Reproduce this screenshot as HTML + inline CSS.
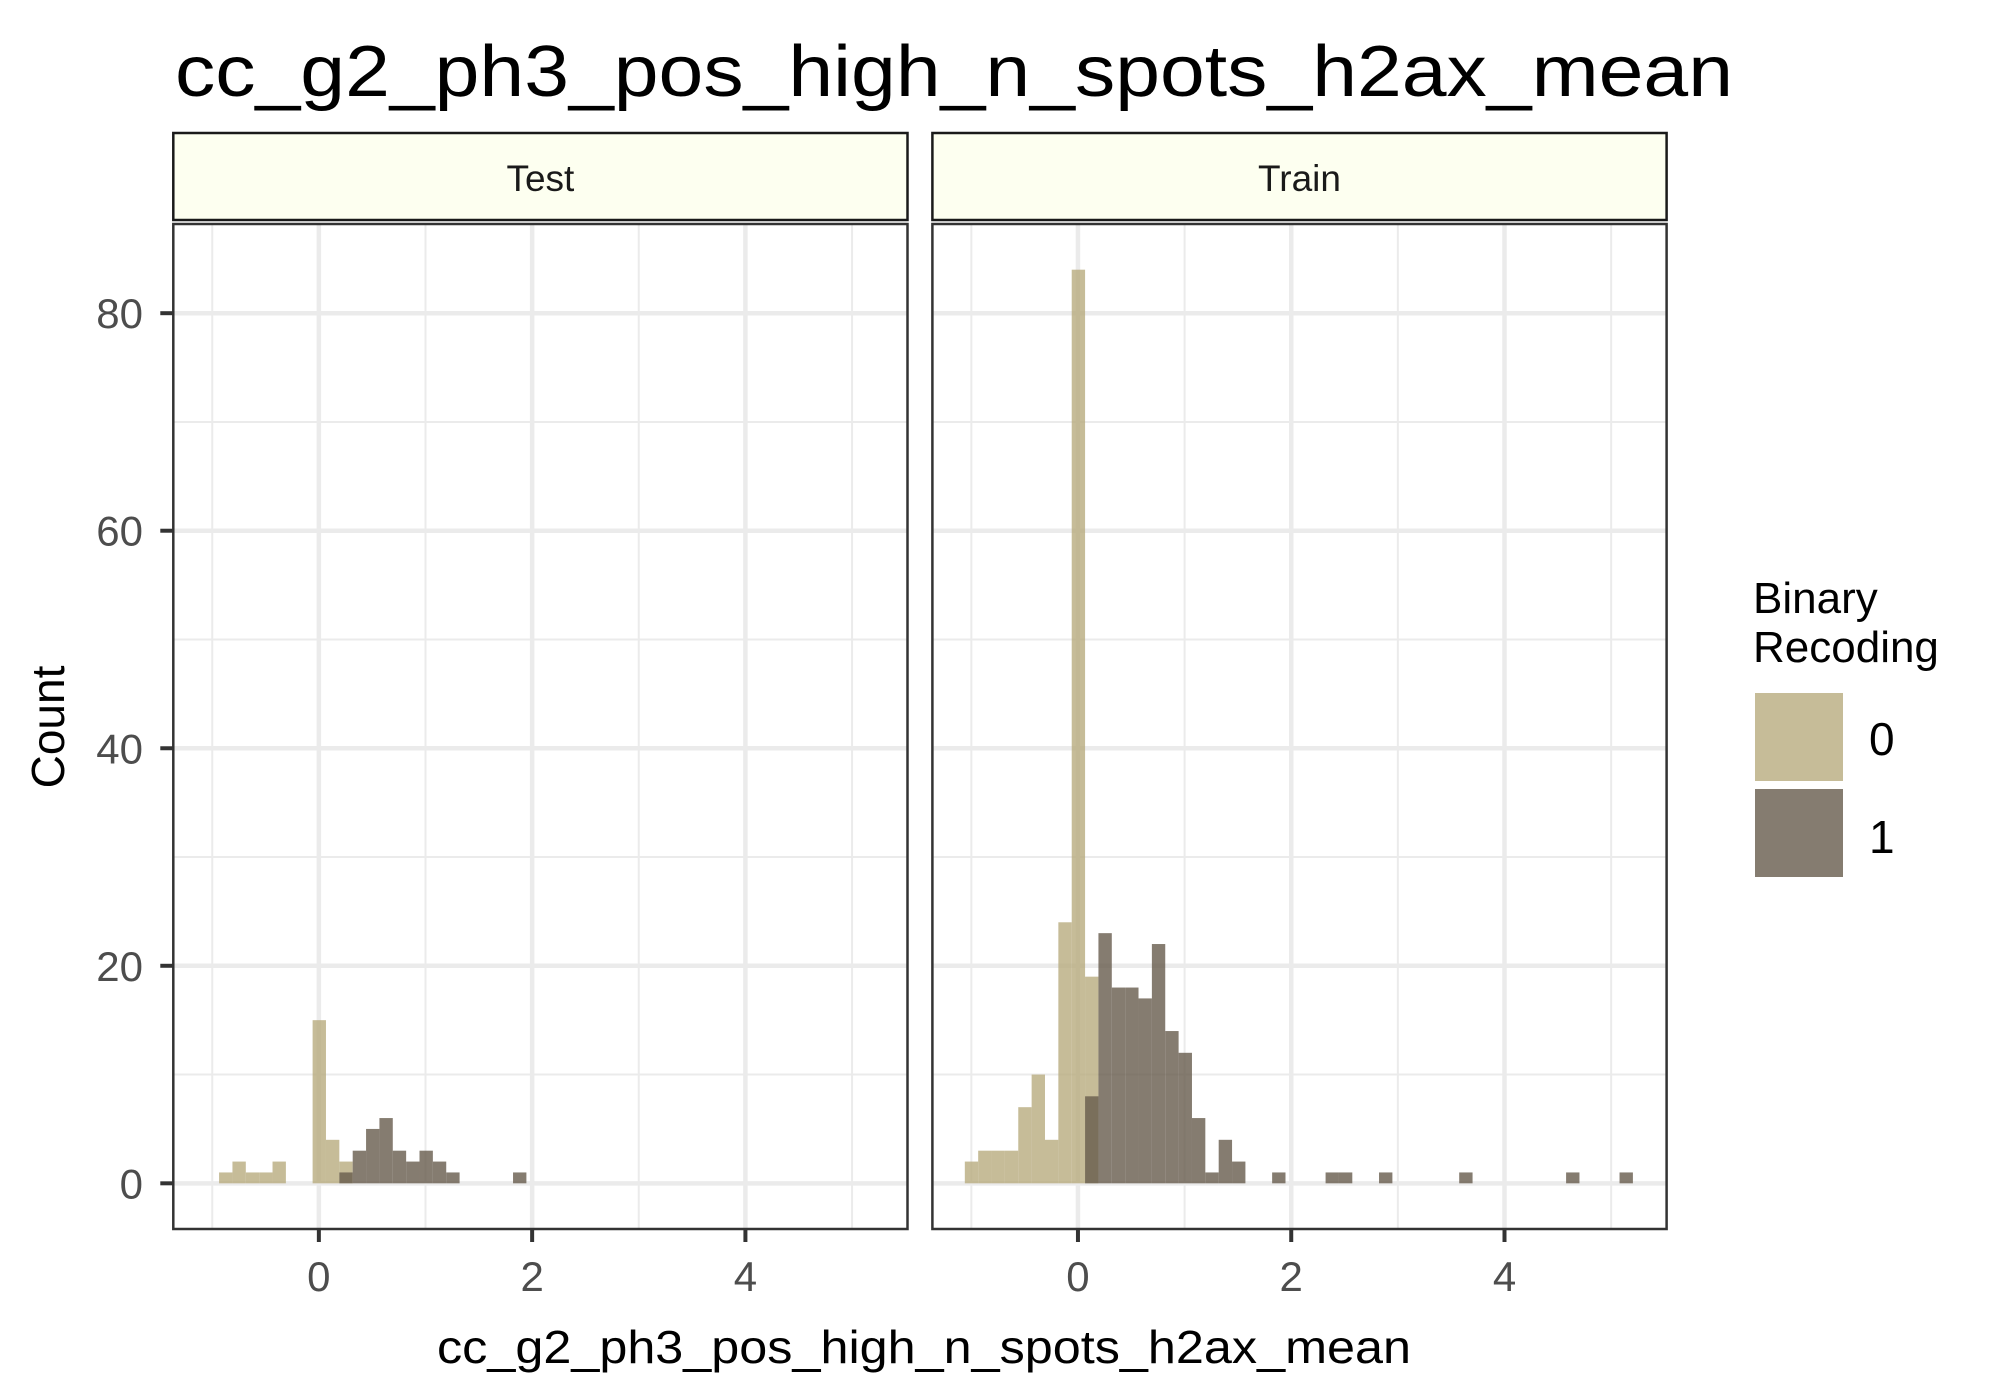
<!DOCTYPE html>
<html><head><meta charset="utf-8"><style>
html,body{margin:0;padding:0;background:#fff;}
svg{display:block;font-family:"Liberation Sans",Arial,sans-serif;}
</style></head><body>
<svg id="chart" width="2000" height="1400" viewBox="0 0 2000 1400" xmlns="http://www.w3.org/2000/svg">
<text x="175" y="96" font-size="72" fill="#000" textLength="1558" lengthAdjust="spacingAndGlyphs">cc_g2_ph3_pos_high_n_spots_h2ax_mean</text>
<text x="924" y="1363" font-size="46" fill="#000" text-anchor="middle" textLength="974" lengthAdjust="spacingAndGlyphs">cc_g2_ph3_pos_high_n_spots_h2ax_mean</text>
<text transform="translate(64,727) rotate(-90)" font-size="46" fill="#000" text-anchor="middle">Count</text>
<g id="panels"></g>
<g>
<text x="1753" y="613" font-size="44" fill="#000">Binary</text>
<text x="1753" y="662" font-size="44" fill="#000">Recoding</text>
<rect x="1755" y="693" width="88" height="88" fill="#b8ab7e" fill-opacity="0.8"/>
<text x="1869" y="755" font-size="46" fill="#000">0</text>
<rect x="1755" y="789" width="88" height="88" fill="#665b4c" fill-opacity="0.8"/>
<text x="1869" y="853" font-size="46" fill="#000">1</text>
</g>
</svg>
<script>
// bin grid
const binStart = -1.061;
const binWidth = 0.1253;
// Test panel counts: [binIndex, count]
const testBins0 = [[1,1],[2,2],[3,1],[4,1],[5,2],[8,15],[9,4],[10,2]];
const testBins1 = [[10,1],[11,3],[12,5],[13,6],[14,3],[15,2],[16,3],[17,2],[18,1],[23,1]];
// Train panel counts
const trainBins0 = [[0,2],[1,3],[2,3],[3,3],[4,7],[5,10],[6,4],[7,24],[8,84],[9,19]];
const trainBins1 = [[9,8],[10,23],[11,18],[12,18],[13,17],[14,22],[15,14],[16,12],[17,6],[18,1],[19,4],[20,2],[23,1],[27,1],[28,1],[31,1],[37,1],[45,1],[49,1]];
const panelNames = ["Test","Train"];
const xTicks = [0,2,4];
const xMinor = [-1,1,3,5];
const yTicks = [0,20,40,60,80];
const yMinor = [10,30,50,70];
const xDomain = [-1.365, 5.52];
const yDomain = [-4.2, 88.2];

const NS = "http://www.w3.org/2000/svg";
const root = document.getElementById('panels');
const panelLefts = [173.3, 932.4];
const panelW = 734.2, pTop = 224, pBot = 1229;
function mk(tag, attrs, parent){const e=document.createElementNS(NS,tag);for(const k in attrs)e.setAttribute(k,attrs[k]);(parent||root).appendChild(e);return e;}
function yS(v){return pBot-(v-yDomain[0])/(yDomain[1]-yDomain[0])*(pBot-pTop);}
const datasets=[[testBins0,testBins1],[trainBins0,trainBins1]];
panelNames.forEach((name,pi)=>{
  const L=panelLefts[pi];
  const xS=v=>L+(v-xDomain[0])/(xDomain[1]-xDomain[0])*panelW;
  const g=mk('g',{});
  
  
  mk('rect',{x:L,y:pTop,width:panelW,height:pBot-pTop,fill:'#fff'},g);
  yMinor.forEach(v=>{const l=mk('line',{x1:L,x2:L+panelW,y1:yS(v),y2:yS(v),stroke:'#ebebeb','stroke-width':2},g);
    
    });
  xMinor.forEach(v=>{const l=mk('line',{x1:xS(v),x2:xS(v),y1:pTop,y2:pBot,stroke:'#ebebeb','stroke-width':2},g);
    
    });
  yTicks.forEach(v=>{const l=mk('line',{x1:L,x2:L+panelW,y1:yS(v),y2:yS(v),stroke:'#ebebeb','stroke-width':4.5},g);
    
    });
  xTicks.forEach(v=>{const l=mk('line',{x1:xS(v),x2:xS(v),y1:pTop,y2:pBot,stroke:'#ebebeb','stroke-width':4.5},g);
    
    });
  const cols=['#b8ab7e','#665b4c'];
  datasets[pi].forEach((series,si)=>{
    series.forEach(([b,c])=>{
      const x0=binStart+b*binWidth;
      const r=mk('rect',{x:xS(x0),y:yS(c),width:xS(x0+binWidth)-xS(x0),height:yS(0)-yS(c),fill:cols[si],'fill-opacity':0.8},g);
      
      
    });
  });
  const fr=mk('rect',{x:L,y:pTop,width:panelW,height:pBot-pTop,fill:'none',stroke:'#333','stroke-width':2.5},g);
  
  
  const st=mk('rect',{x:L,y:133,width:panelW,height:87,fill:'#fdfff0',stroke:'#1a1a1a','stroke-width':2.5},g);
  
  
  const stt=mk('text',{x:L+panelW/2,y:191,'font-size':37,'text-anchor':'middle',fill:'#1a1a1a'},g);
  stt.textContent=name;
  
  
  xTicks.forEach(v=>{
    const t=mk('line',{x1:xS(v),x2:xS(v),y1:pBot,y2:pBot+13,stroke:'#333','stroke-width':4},g);
    
    
    const tl=mk('text',{x:xS(v),y:1291,'font-size':42,'text-anchor':'middle',fill:'#4d4d4d'},g);
    tl.textContent=v;
    
    
  });
  if(pi===0){
    yTicks.forEach(v=>{
      const t=mk('line',{x1:L-13,x2:L,y1:yS(v),y2:yS(v),stroke:'#333','stroke-width':4},g);
      
      
      const tl=mk('text',{x:143,y:yS(v)+15,'font-size':42,'text-anchor':'end',fill:'#4d4d4d'},g);
      tl.textContent=v;
      
      
    });
  }
});
</script>
</body></html>
